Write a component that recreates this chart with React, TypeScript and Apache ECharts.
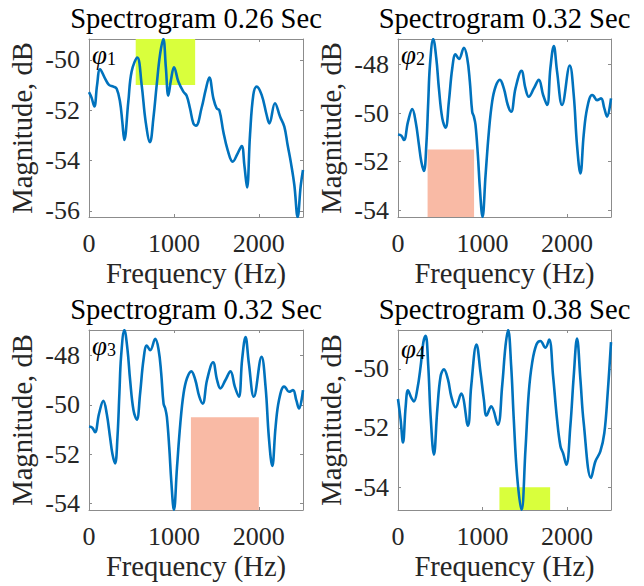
import React, { useEffect, useRef } from "react";
import * as echarts from "echarts";

// ---------- data ----------
const xTicks = [0, 1000, 2000];
const xMax = 2520;

const titles = ["Spectrogram 0.26 Sec", "Spectrogram 0.32 Sec", "Spectrogram 0.32 Sec", "Spectrogram 0.38 Sec"];
const phiIndex = ["1", "2", "3", "4"];

// Spectrum at 0.26 s
const freq026 = [0, 30, 63, 95, 130, 188, 235, 287, 326, 365, 392, 416, 463, 502, 569, 620, 667, 718, 758, 797, 836, 875, 905, 934, 965, 1001, 1052, 1111, 1150, 1189, 1229, 1260, 1327, 1374, 1417, 1464, 1503, 1535, 1582, 1633, 1692, 1751, 1798, 1830, 1861, 1896, 1935, 1974, 2033, 2092, 2124, 2190, 2249, 2300, 2339, 2379, 2418, 2457, 2493, 2520];
const mag026 = [-51.28, -51.5, -51.85, -51.0, -50.37, -50.73, -50.99, -51.06, -51.15, -51.66, -52.45, -53.18, -51.66, -50.46, -49.91, -50.99, -52.45, -53.27, -52.32, -51.0, -49.8, -49.17, -50.3, -51.42, -50.8, -50.29, -50.86, -51.26, -51.42, -51.92, -52.52, -52.61, -51.89, -51.19, -50.7, -51.52, -51.92, -52.0, -52.85, -53.58, -54.04, -53.71, -53.42, -54.2, -55.07, -52.98, -51.39, -51.06, -51.39, -52.19, -52.52, -51.72, -52.25, -52.65, -53.38, -54.11, -54.97, -56.24, -55.0, -54.37];

// Spectrum at 0.32 s
const freq032 = [0, 39, 71, 118, 169, 209, 248, 276, 307, 335, 358, 378, 417, 453, 484, 524, 563, 602, 642, 681, 721, 780, 819, 850, 878, 898, 917, 945, 969, 1000, 1036, 1075, 1114, 1154, 1205, 1252, 1299, 1339, 1390, 1461, 1508, 1547, 1607, 1666, 1717, 1764, 1803, 1843, 1882, 1941, 2032, 2079, 2118, 2158, 2197, 2237, 2296, 2315, 2355, 2402, 2441, 2473, 2520];
const mag032 = [-50.88, -50.93, -51.11, -50.36, -49.84, -50.36, -51.32, -52.0, -52.38, -51.32, -49.53, -48.03, -46.96, -47.75, -48.99, -50.22, -50.6, -49.53, -48.16, -47.59, -47.78, -47.32, -47.75, -48.71, -49.95, -50.15, -50.49, -51.73, -53.1, -54.27, -52.55, -50.77, -49.53, -48.92, -48.64, -48.99, -49.67, -49.95, -48.99, -48.27, -48.99, -49.33, -48.99, -48.64, -49.26, -49.67, -48.16, -47.25, -48.3, -49.67, -48.05, -49.26, -51.32, -52.48, -50.9, -49.81, -49.26, -49.3, -49.47, -49.4, -49.81, -50.15, -49.4];

// Spectrum at 0.38 s
const freq038 = [0, 31, 59, 91, 118, 158, 189, 228, 268, 299, 327, 358, 386, 425, 465, 504, 543, 591, 630, 681, 748, 827, 866, 929, 977, 1016, 1047, 1103, 1181, 1232, 1272, 1303, 1339, 1370, 1410, 1461, 1508, 1547, 1587, 1638, 1685, 1744, 1788, 1835, 1882, 1922, 1953, 1992, 2039, 2079, 2118, 2158, 2197, 2284, 2335, 2394, 2441, 2481, 2520];
const mag038 = [-51.02, -51.72, -52.49, -51.27, -50.73, -50.98, -51.1, -50.7, -49.91, -49.12, -48.89, -49.91, -51.6, -52.9, -51.38, -50.25, -50.02, -50.36, -50.93, -51.3, -50.84, -51.92, -50.59, -49.18, -50.14, -51.04, -51.58, -51.27, -51.89, -50.59, -49.23, -48.69, -49.91, -51.72, -53.64, -54.77, -52.73, -50.81, -49.8, -49.18, -49.06, -49.29, -49.01, -50.25, -51.72, -52.62, -52.85, -53.24, -51.94, -50.25, -48.98, -50.36, -51.83, -53.69, -53.13, -52.79, -52.17, -50.81, -49.1];

// y-axis ranges and ticks per panel
const yMin = [-56.24, -54.27, -54.27, -54.77];
const yMax = [-49.17, -46.96, -46.96, -48.69];
const yTicks = [
  [-56, -54, -52, -50],
  [-54, -52, -50, -48],
  [-54, -52, -50, -48],
  [-54, -52, -50],
];

// highlighted frequency bands (Hz) and magnitude bounds (dB)
const bandFreq = [
  [550, 1250],
  [350, 900],
  [1200, 2000],
  [1200, 1800],
];
const bandMag = [
  [-51, -49.17],
  [-54.27, -51.5],
  [-54.27, -50.5],
  [-54.77, -54],
];
const bandColor = ["#D9FF3C", "#F9BAA5", "#F9BAA5", "#D9FF3C"];

const panelFreq = [freq026, freq032, freq032, freq038];
const panelMag = [mag026, mag032, mag032, mag038];

// ---------- layout ----------
const FONT = "'Liberation Serif', 'Times New Roman', serif";
const AXIS = "#8c8c8c";
const TXT = "#262626";
const grids = [
  { left: 89, top: 39, width: 214, height: 178 },
  { left: 398, top: 39, width: 213, height: 178 },
  { left: 89, top: 330, width: 214, height: 180 },
  { left: 398, top: 330, width: 213, height: 180 },
];

const plain = (v: number) => String(v);

export default function App() {
  const ref = useRef<HTMLDivElement>(null);
  useEffect(() => {
    const chart = echarts.init(ref.current!, null, { renderer: "svg" });
    const xAxis: any[] = [];
    const yAxis: any[] = [];
    const series: any[] = [];
    const title: any[] = [];
    const graphic: any[] = [];
    grids.forEach((g, p) => {
      const tickStyle = { show: true, inside: true, length: 3, lineStyle: { color: AXIS, width: 1 } };
      const lineStyle = { show: true, onZero: false, lineStyle: { color: AXIS, width: 1 } };
      xAxis.push({
        type: "value", gridIndex: p, min: 0, max: xMax, position: "bottom",
        axisLine: lineStyle,
        axisTick: { ...tickStyle, customValues: xTicks },
        axisLabel: { customValues: xTicks, formatter: plain, fontSize: 26, fontFamily: FONT, color: TXT, margin: 13 },
        splitLine: { show: false },
        name: "Frequency (Hz)", nameLocation: "middle", nameGap: 42,
        nameTextStyle: { fontSize: 28.6, fontFamily: FONT, color: TXT },
      });
      xAxis.push({
        type: "value", gridIndex: p, min: 0, max: xMax, position: "top",
        axisLine: lineStyle,
        axisTick: { ...tickStyle, customValues: xTicks },
        axisLabel: { show: false },
        splitLine: { show: false },
      });
      yAxis.push({
        type: "value", gridIndex: p, min: yMin[p], max: yMax[p], position: "left",
        axisLine: lineStyle,
        axisTick: { ...tickStyle, customValues: yTicks[p] },
        axisLabel: { customValues: yTicks[p], formatter: plain, fontSize: 26, fontFamily: FONT, color: TXT, margin: 9 },
        splitLine: { show: false },
        name: "Magnitude, dB", nameLocation: "middle", nameGap: 52, nameRotate: 90,
        nameTextStyle: { fontSize: 28.6, fontFamily: FONT, color: TXT },
      });
      yAxis.push({
        type: "value", gridIndex: p, min: yMin[p], max: yMax[p], position: "right",
        axisLine: lineStyle,
        axisTick: { ...tickStyle, customValues: yTicks[p] },
        axisLabel: { show: false },
        splitLine: { show: false },
      });
      series.push({
        type: "line", xAxisIndex: 2 * p, yAxisIndex: 2 * p,
        data: panelFreq[p].map((f, i) => [f, panelMag[p][i]]),
        showSymbol: false, smooth: 0.4,
        lineStyle: { color: "#0072BD", width: 2.6 },
        markArea: {
          silent: true,
          itemStyle: { color: bandColor[p], opacity: 1 },
          data: [[
            { coord: [bandFreq[p][0], bandMag[p][0]] },
            { coord: [bandFreq[p][1], bandMag[p][1]] },
          ]],
        },
        z: 3,
      });
      title.push({
        text: titles[p], left: g.left + g.width / 2, top: g.top - 35, textAlign: "center", padding: 0,
        textStyle: { fontSize: 28.6, fontWeight: "normal", fontFamily: FONT, color: "#000" },
      });
      graphic.push({
        type: "text", x: g.left + 3, y: g.top + (p === 3 ? 5 : 2), z: 10,
        style: {
          text: "{p|\u03C6}{s|" + phiIndex[p] + "}",
          fill: "#000",
          rich: {
            p: { fontSize: 27, fontStyle: "italic", fontFamily: FONT, fill: "#000" },
            s: { fontSize: 18, fontFamily: FONT, fill: "#000", verticalAlign: "bottom" },
          },
        },
      });
    });
    chart.setOption({
      animation: false,
      backgroundColor: "#fff",
      grid: grids.map((g) => ({ ...g, containLabel: false })),
      xAxis, yAxis, series, title, graphic,
    });
    return () => chart.dispose();
  }, []);
  return <div ref={ref} style={{ position: "fixed", left: 0, top: 0, width: 644, height: 586 }} />;
}
